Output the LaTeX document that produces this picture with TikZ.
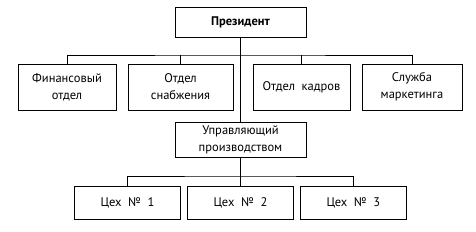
\documentclass[tikz,border=0pt]{standalone}
\usepackage{fontspec}
\setmainfont{PT Sans}
\usepackage{tikz}
\usetikzlibrary{positioning}

\begin{document}
\begin{tikzpicture}[
    x=1pt, y=-1pt,
    unit/.style={rectangle, draw, line width=0.9pt, inner sep=0pt, align=center,
                 font=\fontsize{12.5}{17}\selectfont},
    link/.style={line width=0.8pt}
]
\useasboundingbox (0,0) rectangle (476,232);

\node[unit, minimum width=131pt, minimum height=30pt, font=\fontsize{12.5}{17}\selectfont\bfseries] (president) at (240.5,22) {Президент};

\node[unit, minimum width=98pt, minimum height=46pt] (finance) at (67,87) {Финансовый\\отдел};
\node[unit, minimum width=105pt, minimum height=46pt] (supply) at (180.5,87) {Отдел\\снабжения};
\node[unit, minimum width=97pt, minimum height=46pt] (staff) at (301.5,87) {Отдел\ \ кадров};
\node[unit, minimum width=100pt, minimum height=46pt] (marketing) at (412,87) {Служба\\маркетинга};

\node[unit, minimum width=131pt, minimum height=35pt] (manager) at (240.5,139.5) {Управляющий\\производством};

\node[unit, minimum width=106pt, minimum height=33pt] (shop2) at (240.5,202.5) {Цех \ №\ \ 2};
\node[unit, minimum width=106pt, minimum height=33pt, left=6pt of shop2] (shop1) {Цех \ №\ \ 1};
\node[unit, minimum width=106pt, minimum height=33pt, right=6pt of shop2] (shop3) {Цех \ №\ \ 3};

% president -> departments
\coordinate (bar) at (240.5,55);
\draw[link] (finance.north) |- (bar) -| (marketing.north);
\draw[link] (supply.north) -- (supply.north |- bar);
\draw[link] (staff.north) -- (staff.north |- bar);
\draw[link] (president.south) -- (manager.north);

% manager -> shops
\coordinate (bar2) at (240.5,176);
\draw[link] (shop1.north) |- (bar2) -| (shop3.north);
\draw[link] (manager.south) -- (shop2.north);

\end{tikzpicture}
\end{document}
